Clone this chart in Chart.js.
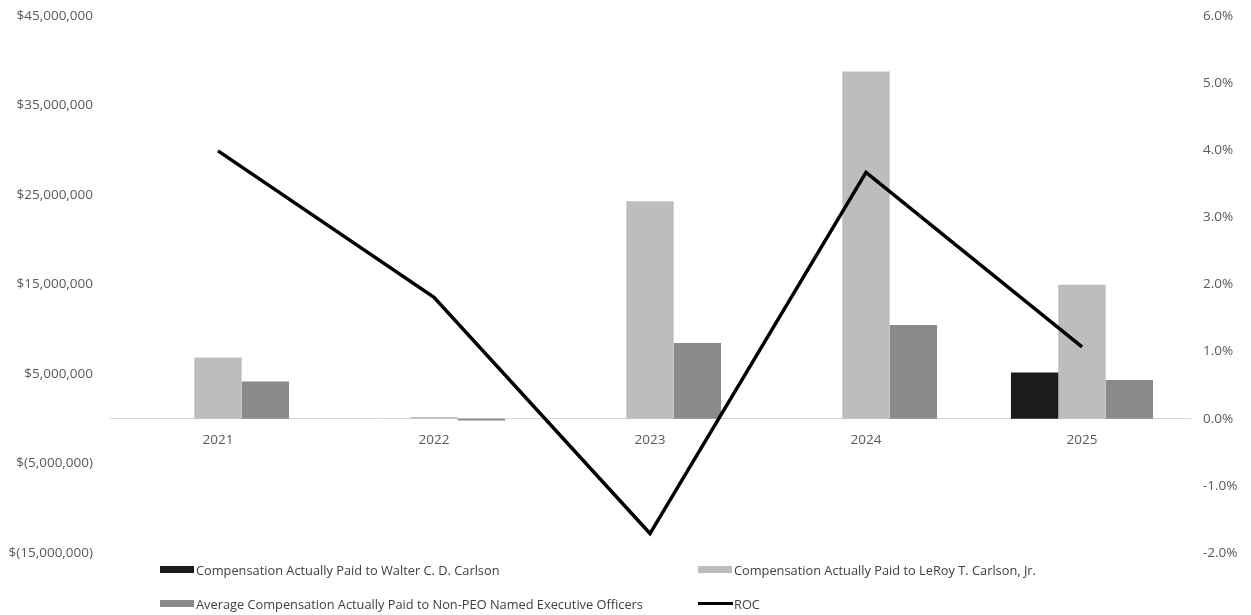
<!DOCTYPE html>
<html>
<head>
<meta charset="utf-8">
<script src="https://cdn.jsdelivr.net/npm/chart.js@4/dist/chart.umd.min.js"></script>
<style>
  html, body { margin: 0; padding: 0; background: #ffffff; }
  #wrap { position: relative; width: 1251px; height: 615px; }
  #c { position: absolute; left: 0; top: 0; }
  .leg { position: absolute; font-family: "Open Sans", "Liberation Sans", Arial, sans-serif; font-size: 12.8px; color: #404040; white-space: nowrap; line-height: 16px; }
  .leg .sw { position: absolute; left: 0; }
  .leg .tx { position: absolute; top: -8px; }
</style>
</head>
<body>
<div id="wrap">
  <canvas id="c" width="1251" height="615"></canvas>
  <div id="legend"></div>
</div>
<script>
// ---- data ----
const years = ['2021', '2022', '2023', '2024', '2025'];
const walterCAP = [null, null, null, null, 5170000];
const leroyCAP = [6850000, 200000, 24300000, 38800000, 14970000];
const nonPeoCAP = [4170000, -200000, 8460000, 10470000, 4320000];
const rocPct = [3.99, 1.81, -1.71, 3.67, 1.07];
const leftTicks = [-15000000, -5000000, 5000000, 15000000, 25000000, 35000000, 45000000];
const rightTicks = [-2, -1, 0, 1, 2, 3, 4, 5, 6];
const seriesNames = [
  'Compensation Actually Paid to Walter C. D. Carlson',
  'Compensation Actually Paid to LeRoy T. Carlson, Jr.',
  'Average Compensation Actually Paid to Non-PEO Named Executive Officers',
  'ROC'
];
const seriesColors = ['#1b1b1b', '#bdbdbd', '#8a8a8a', '#000000'];

function fmtMoney(v) {
  const s = Math.abs(v).toLocaleString('en-US');
  return v < 0 ? '$(' + s + ')' : '$' + s;
}

const tickFont = { family: '"Open Sans", "Liberation Sans", Arial, sans-serif', size: 13.5 };
const tickColor = '#595959';

new Chart(document.getElementById('c'), {
  data: {
    labels: years,
    datasets: [
      { type: 'line', label: seriesNames[3], data: rocPct, yAxisID: 'y1', borderColor: seriesColors[3],
        borderWidth: 3.5, pointRadius: 0, borderJoinStyle: 'miter', tension: 0, order: 0 },
      { type: 'bar', label: seriesNames[0], data: walterCAP, yAxisID: 'y', backgroundColor: seriesColors[0],
        categoryPercentage: 0.658, barPercentage: 1.0, order: 1 },
      { type: 'bar', label: seriesNames[1], data: leroyCAP, yAxisID: 'y', backgroundColor: seriesColors[1],
        categoryPercentage: 0.658, barPercentage: 1.0, order: 1 },
      { type: 'bar', label: seriesNames[2], data: nonPeoCAP, yAxisID: 'y', backgroundColor: seriesColors[2],
        categoryPercentage: 0.658, barPercentage: 1.0, order: 1 }
    ]
  },
  options: {
    responsive: false,
    animation: false,
    layout: { padding: { top: 16, bottom: 62, left: 0, right: 0 } },
    plugins: { legend: { display: false }, tooltip: { enabled: false } },
    scales: {
      x: {
        type: 'category',
        position: { y: 0 },
        grid: { display: false, drawTicks: false },
        border: { display: true, color: '#d9d9d9', width: 1 },
        ticks: { color: tickColor, font: tickFont, padding: 13, maxRotation: 0 }
      },
      y: {
        type: 'linear',
        position: 'left',
        min: -15000000,
        max: 45000000,
        afterBuildTicks: s => { s.ticks = leftTicks.map(v => ({ value: v })); },
        afterFit: s => { s.width = 110; s.paddingTop = 0; s.paddingBottom = 0; },
        grid: { display: false, drawTicks: false },
        border: { display: false },
        ticks: { color: tickColor, font: tickFont, padding: 17, callback: v => fmtMoney(v) }
      },
      y1: {
        type: 'linear',
        position: 'right',
        min: -2,
        max: 6,
        afterBuildTicks: s => { s.ticks = rightTicks.map(v => ({ value: v })); },
        afterFit: s => { s.width = 61; s.paddingTop = 0; s.paddingBottom = 0; },
        grid: { display: false, drawTicks: false },
        border: { display: false },
        ticks: { color: tickColor, font: tickFont, padding: 13, callback: v => Number(v).toFixed(1) + '%' }
      }
    }
  }
});

// ---- HTML legend ----
const legendItems = [
  { i: 0, x: 160, y: 570, kind: 'box' },
  { i: 1, x: 698, y: 570, kind: 'box' },
  { i: 2, x: 160, y: 604, kind: 'box' },
  { i: 3, x: 698, y: 604, kind: 'line' }
];
const legEl = document.getElementById('legend');
legendItems.forEach(it => {
  const d = document.createElement('div');
  d.className = 'leg';
  d.style.left = it.x + 'px';
  d.style.top = it.y + 'px';
  const sw = document.createElement('span');
  sw.className = 'sw';
  if (it.kind === 'box') {
    sw.style.width = '34px'; sw.style.height = '7px'; sw.style.top = '-4px';
  } else {
    sw.style.width = '35px'; sw.style.height = '3px'; sw.style.top = '-2px';
  }
  sw.style.background = seriesColors[it.i];
  const tx = document.createElement('span');
  tx.className = 'tx';
  tx.style.left = '36px';
  tx.textContent = seriesNames[it.i];
  d.appendChild(sw); d.appendChild(tx);
  legEl.appendChild(d);
});
</script>
</body>
</html>
